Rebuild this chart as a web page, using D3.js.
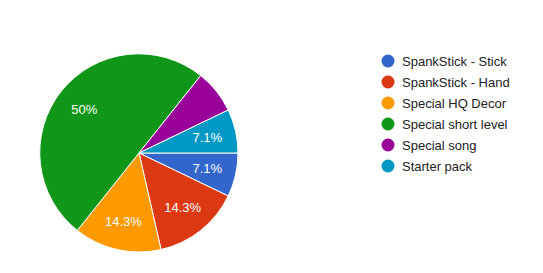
<!DOCTYPE html>
<html>
<head>
<meta charset="utf-8">
<script src="https://cdn.jsdelivr.net/npm/d3@7"></script>
<style>
  body { margin: 0; background: #fff; }
  svg { display: block; }
</style>
</head>
<body>
<div id="chart"></div>
<script>
// Taille de la fenêtre
const width = 543;
const height = 273;

// Données : réponses par choix
const categories = [
  "SpankStick - Stick",
  "SpankStick - Hand",
  "Special HQ Decor",
  "Special short level",
  "Special song",
  "Starter pack",
];
const counts = [1, 2, 2, 7, 1, 1];
const sliceColors = ["#3366cc", "#dc3912", "#ff9900", "#109618", "#990099", "#0099c6"];
// Parts sans pourcentage affiché (comme dans l'original)
const hiddenLabels = ["Special song"];

const total = d3.sum(counts);
const fmt = d3.format(".1~%");

// Géométrie du camembert
const cx = 139, cy = 153;
const radius = 99;
const labelRadius = 70;

const color = d3.scaleOrdinal().domain(categories).range(sliceColors);

const svg = d3.select("#chart")
  .append("svg")
  .attr("width", width)
  .attr("height", height);

const pie = d3.pie()
  .value((d, i) => counts[i])
  .sort(null)
  .startAngle(Math.PI / 2)
  .endAngle(Math.PI / 2 + 2 * Math.PI);

const arc = d3.arc().innerRadius(0).outerRadius(radius);
const labelArc = d3.arc().innerRadius(labelRadius).outerRadius(labelRadius);

const g = svg.append("g").attr("transform", `translate(${cx},${cy})`);

const slices = g.selectAll("g.slice")
  .data(pie(categories))
  .enter()
  .append("g")
  .attr("class", "slice");

slices.append("path")
  .attr("d", arc)
  .attr("fill", (d) => color(d.data))
  .attr("stroke", "#fff")
  .attr("stroke-width", 1);

// Pourcentages en blanc dans les parts
slices.filter((d) => !hiddenLabels.includes(d.data))
  .append("text")
  .attr("transform", (d) => `translate(${labelArc.centroid(d)})`)
  .attr("text-anchor", "middle")
  .attr("dy", "0.35em")
  .style("font-family", "Arial, 'Liberation Sans', sans-serif")
  .style("font-size", "13px")
  .style("fill", "#fff")
  .text((d) => fmt(d.value / total));

// Légende
const legendX = 388;
const legendY = d3.scalePoint().domain(categories).range([61, 166]);

const legend = svg.append("g")
  .selectAll("g")
  .data(categories)
  .enter()
  .append("g")
  .attr("transform", (d) => `translate(${legendX},${legendY(d)})`);

legend.append("circle")
  .attr("r", 6.5)
  .attr("fill", (d) => color(d));

legend.append("text")
  .attr("x", 14)
  .attr("dy", "0.35em")
  .style("font-family", "Arial, 'Liberation Sans', sans-serif")
  .style("font-size", "13px")
  .style("fill", "#222")
  .text((d) => d);
</script>
</body>
</html>
